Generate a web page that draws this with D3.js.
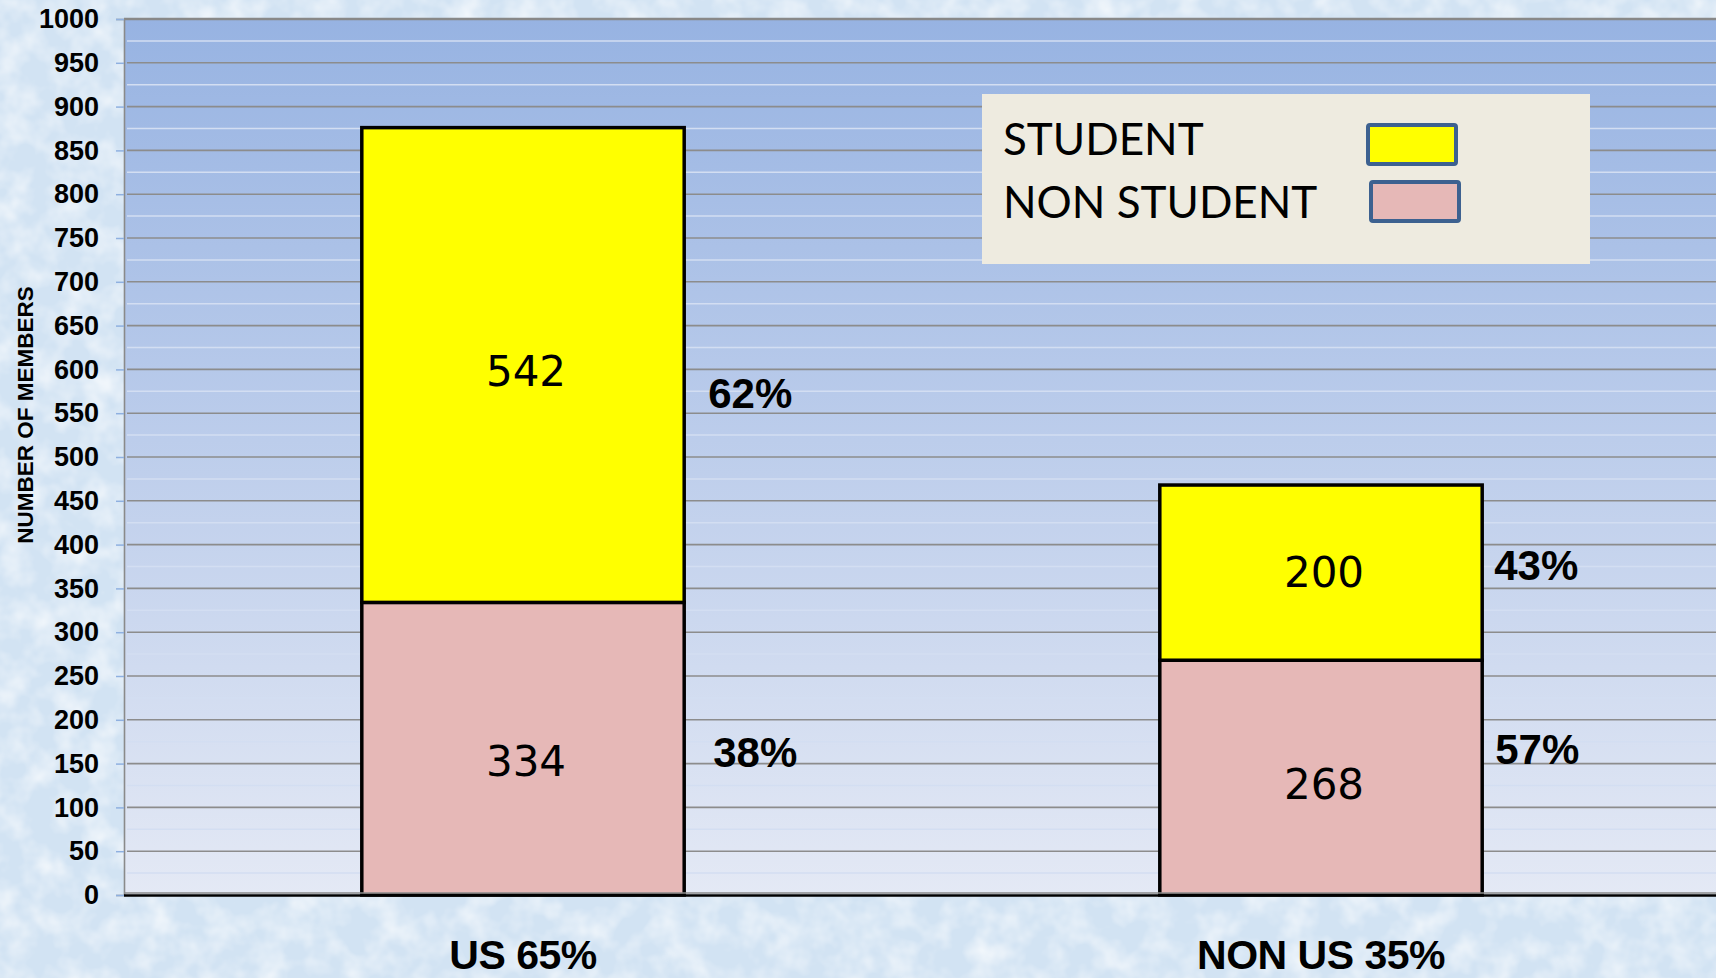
<!DOCTYPE html>
<html>
<head>
<meta charset="utf-8">
<script src="https://cdn.jsdelivr.net/npm/d3@7"></script>
<style>
  html, body { margin: 0; padding: 0; background: #d8e7f4; overflow: hidden; }
  svg { display: block; }
</style>
</head>
<body>
<div id="chart"></div>
<script>
// values
const categories = ["US 65%", "NON US 35%"];
const nonStudent = [334, 268];
const student = [542, 200];
const studentPct = ["62%", "43%"];
const nonStudentPct = ["38%", "57%"];
const legendNames = ["STUDENT", "NON STUDENT"];
const yTicks = [0, 50, 100, 150, 200, 250, 300, 350, 400, 450, 500,
                550, 600, 650, 700, 750, 800, 850, 900, 950, 1000];
const yMinor = [25, 75, 125, 175, 225, 275, 325, 375, 425, 475, 525,
                575, 625, 675, 725, 775, 825, 875, 925, 975];

const W = 1716, H = 978;
const COLORS = { STUDENT: "#ffff00", "NON STUDENT": "#e6b8b7" };

const plot = { left: 124, right: 1720, top: 19, bottom: 895 };

// the original's text boxes were placed by hand, so nudge them a bit
const pctNudge = {
  dx: { student: [24, 12], nonStudent: [29, 13] },
  dy: { student: [28, -7], nonStudent: [4, -28] }
};
const valNudge = { STUDENT: [6, 0], "NON STUDENT": [13, 7] };

const svg = d3.select("#chart")
  .append("svg")
  .attr("width", W)
  .attr("height", H)
  .attr("viewBox", `0 0 ${W} ${H}`);

const defs = svg.append("defs");

const tex = defs.append("filter").attr("id", "tex")
  .attr("x", 0).attr("y", 0).attr("width", "100%").attr("height", "100%");
tex.append("feTurbulence")
  .attr("type", "fractalNoise").attr("baseFrequency", "0.035")
  .attr("numOctaves", 3).attr("seed", 7);
tex.append("feColorMatrix")
  .attr("type", "matrix")
  .attr("values", "0 0 0 0 1  0 0 0 0 1  0 0 0 0 1  1.3 0 0 0 -0.5");

const grad = defs.append("linearGradient").attr("id", "plotBg")
  .attr("x1", 0).attr("y1", 0).attr("x2", 0).attr("y2", 1);
grad.append("stop").attr("offset", "0%").attr("stop-color", "#97b3e2");
grad.append("stop").attr("offset", "100%").attr("stop-color", "#e4e9f5");

// page background
svg.append("rect").attr("width", W).attr("height", H).attr("fill", "#d2e3f3");
svg.append("rect").attr("width", W).attr("height", H).attr("filter", "url(#tex)");

const x = d3.scaleBand()
  .domain(categories)
  .range([plot.left, plot.right])
  .paddingInner(0.596)
  .paddingOuter(0.298);

const y = d3.scaleLinear().domain([0, 1000]).range([plot.bottom, plot.top]);

// plot area
svg.append("rect")
  .attr("x", plot.left).attr("y", plot.top)
  .attr("width", plot.right - plot.left).attr("height", plot.bottom - plot.top)
  .attr("fill", "url(#plotBg)");

svg.append("g").selectAll("line")
  .data(yMinor).join("line")
  .attr("x1", plot.left + 3).attr("x2", plot.right)
  .attr("y1", d => y(d)).attr("y2", d => y(d))
  .attr("stroke", "#d3def2").attr("stroke-width", 1.5);

svg.append("g").selectAll("line")
  .data(yTicks.filter(d => d > 0 && d < 1000)).join("line")
  .attr("x1", plot.left + 3).attr("x2", plot.right)
  .attr("y1", d => y(d)).attr("y2", d => y(d))
  .attr("stroke", "#8c8c8c").attr("stroke-width", 1.6);

svg.append("line")
  .attr("x1", plot.left).attr("x2", plot.right)
  .attr("y1", y(1000)).attr("y2", y(1000))
  .attr("stroke", "#888").attr("stroke-width", 2.6);

// y axis
const yAxis = svg.append("g")
  .attr("transform", `translate(${plot.left},0)`)
  .call(d3.axisLeft(y).tickValues(yTicks).tickFormat(d3.format("d")).tickSize(8).tickPadding(17));
yAxis.select(".domain").attr("stroke", "#8a8a8a").attr("stroke-width", 1.6);
yAxis.selectAll(".tick line").attr("stroke", "#8fb0e0").attr("stroke-width", 1.5);
yAxis.selectAll(".tick text")
  .attr("fill", "#000")
  .style("font-family", "'Liberation Sans', Arial, sans-serif")
  .style("font-weight", "bold")
  .style("font-size", "27px");

svg.append("text")
  .attr("transform", `translate(33,415) rotate(-90)`)
  .attr("text-anchor", "middle")
  .style("font-family", "'Liberation Sans', Arial, sans-serif")
  .style("font-weight", "bold")
  .style("font-size", "22.5px")
  .text("NUMBER OF MEMBERS");

// stacked bars
const rows = categories.map((c, i) => ({
  cat: c, "NON STUDENT": nonStudent[i], STUDENT: student[i], i
}));
const stacked = d3.stack().keys(["NON STUDENT", "STUDENT"])(rows);

const layers = svg.append("g").selectAll("g")
  .data(stacked).join("g")
  .attr("fill", d => COLORS[d.key]);

layers.selectAll("rect")
  .data(d => d).join("rect")
  .attr("x", d => x(d.data.cat))
  .attr("y", d => y(d[1]))
  .attr("width", x.bandwidth())
  .attr("height", d => y(d[0]) - y(d[1]))
  .attr("stroke", "#000")
  .attr("stroke-width", 3.5);

// value labels inside segments
layers.each(function (layer) {
  d3.select(this).selectAll("text.val")
    .data(layer).join("text")
    .attr("class", "val")
    .attr("x", d => x(d.data.cat) + x.bandwidth() / 2 + 3)
    .attr("y", d => y((d[0] + d[1]) / 2) + valNudge[layer.key][d.data.i])
    .attr("text-anchor", "middle")
    .attr("dominant-baseline", "central")
    .attr("fill", "#000")
    .style("font-family", "'DejaVu Sans', sans-serif")
    .style("font-size", "42px")
    .text(d => d[1] - d[0]);
});

// percentage labels to the right of each segment
const pctG = svg.append("g")
  .style("font-family", "'Liberation Sans', Arial, sans-serif")
  .style("font-weight", "bold")
  .style("font-size", "42px");

categories.forEach((c, i) => {
  const xr = x(c) + x.bandwidth();
  pctG.append("text")
    .attr("x", xr + pctNudge.dx.student[i])
    .attr("y", y(nonStudent[i] + student[i] / 2) + pctNudge.dy.student[i])
    .attr("dominant-baseline", "central")
    .text(studentPct[i]);
  pctG.append("text")
    .attr("x", xr + pctNudge.dx.nonStudent[i])
    .attr("y", y(nonStudent[i] / 2) + pctNudge.dy.nonStudent[i])
    .attr("dominant-baseline", "central")
    .text(nonStudentPct[i]);
});

// x axis line and category labels
svg.append("line")
  .attr("x1", plot.left).attr("x2", plot.right)
  .attr("y1", y(0) - 2).attr("y2", y(0) - 2)
  .attr("stroke", "#8a8a8a").attr("stroke-width", 1.5);
svg.append("line")
  .attr("x1", plot.left).attr("x2", plot.right)
  .attr("y1", y(0) + 0.5).attr("y2", y(0) + 0.5)
  .attr("stroke", "#000").attr("stroke-width", 2.5);

svg.append("g").selectAll("text")
  .data(categories).join("text")
  .attr("x", d => x(d) + x.bandwidth() / 2)
  .attr("y", 969)
  .attr("text-anchor", "middle")
  .style("font-family", "'Liberation Sans', Arial, sans-serif")
  .style("font-weight", "bold")
  .style("font-size", "41px")
  .style("letter-spacing", "-0.5px")
  .text(d => d);

// legend
const legend = svg.append("g").attr("transform", "translate(982,94)");
legend.append("rect")
  .attr("width", 608).attr("height", 170)
  .attr("fill", "#eeebe0");

const legendItems = legend.selectAll(".legend-item")
  .data(legendNames).join("g")
  .attr("class", "legend-item")
  .attr("transform", (d, i) => `translate(0,${i * 63})`);

legendItems.append("text")
  .attr("x", 21).attr("y", 61)
  .style("font-family", "Lato, 'Open Sans', sans-serif")
  .style("font-size", "44px")
  .attr("fill", "#000")
  .text(d => d);

legendItems.append("rect")
  .attr("x", (d, i) => 386 + i * 3).attr("y", (d, i) => 31 - i * 6)
  .attr("width", 88).attr("height", 39)
  .attr("rx", 2)
  .attr("fill", d => COLORS[d])
  .attr("stroke", "#3d6190")
  .attr("stroke-width", 4);
</script>
</body>
</html>
